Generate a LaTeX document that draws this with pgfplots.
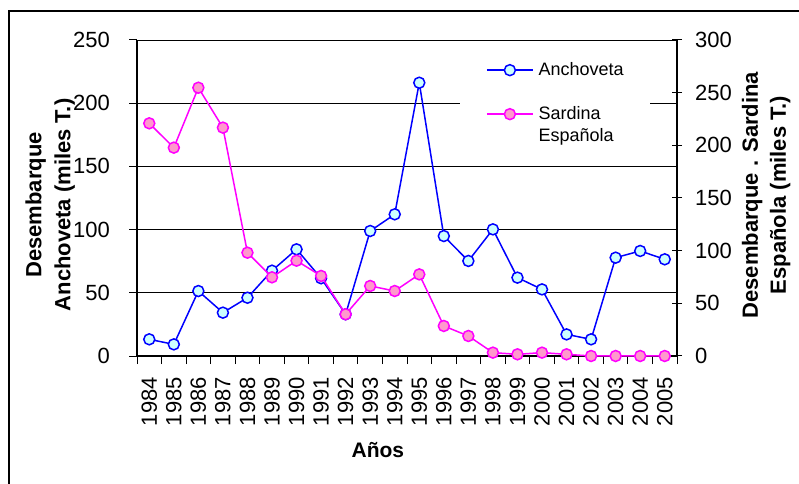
\documentclass[border=0pt]{standalone}
\usepackage{fontspec}
\setmainfont{Liberation Sans}
\usepackage{pgfplots}
\pgfplotsset{compat=1.18}
\definecolor{anchblue}{RGB}{0,0,255}
\definecolor{anchfill}{RGB}{204,255,255}
\definecolor{sardmag}{RGB}{255,0,255}
\definecolor{sardfill}{RGB}{255,153,204}
\pgfplotsset{
  anch/.style={color=anchblue, line width=1.5bp, mark=*, mark size=5.5bp,
    mark options={fill=anchfill, draw=anchblue, line width=1.5bp, solid}},
  sard/.style={color=sardmag, line width=1.5bp, mark=*, mark size=5.5bp,
    mark options={fill=sardfill, draw=sardmag, line width=1.5bp, solid}},
  common/.style={
    at={(137bp,128bp)}, anchor=south west, scale only axis,
    width=540bp, height=316bp, xmin=-0.5, xmax=21.5, clip=false,
    /pgf/number format/assume math mode=true,
    ticklabel style={font=\fontsize{22bp}{26bp}\selectfont},
    tick style={black, line width=1bp},
    axis line style={black, line width=1.2bp},
  },
}
\begin{document}
\begin{tikzpicture}
\begin{axis}[common,
  ymin=0, ymax=250, ytick={0,50,...,250},
  axis x line*=bottom, axis y line*=left,
  ymajorgrids, grid style={black, line width=0.8bp},
  xtick={-0.5,0.5,...,21.5}, xticklabels={},
  extra x ticks={0,1,...,21},
  extra x tick labels={1984,1985,1986,1987,1988,1989,1990,1991,1992,1993,1994,1995,1996,1997,1998,1999,2000,2001,2002,2003,2004,2005},
  extra x tick style={tick style={draw=none},
    xticklabel style={yshift=-13bp, rotate=90, anchor=east, inner sep=0pt,
      font=\fontsize{22bp}{26bp}\selectfont}},
  tick align=outside, major tick length=8bp,
  yticklabel style={anchor=east, inner sep=0pt, xshift=-19bp},
  ylabel={Desembarque\\Anchoveta (miles T.)},
  ylabel style={align=center, font=\bfseries\fontsize{22bp}{29bp}\selectfont,
    at={(axis description cs:-0.161,0.478)}, anchor=center},
  xlabel={Años},
  xlabel style={font=\bfseries\fontsize{21bp}{25bp}\selectfont,
    at={(axis description cs:0.446,-0.297)}, anchor=center},
]
\addplot[anch] coordinates {
(0,13.2) (1,9.2) (2,51.4) (3,34.3) (4,46.1) (5,67.5) (6,84.4) (7,61.5)
(8,33) (9,98.9) (10,112.1) (11,216.2) (12,94.9) (13,75.2) (14,100.2)
(15,62) (16,52.7) (17,17.1) (18,13.2) (19,77.8) (20,83.1) (21,76.5)};
\end{axis}
\begin{axis}[common,
  ymin=0, ymax=300, ytick={0,50,...,300},
  axis x line=none, axis y line*=right,
  tick align=center, major tick length=10bp,
  yticklabel style={anchor=west, inner sep=0pt, xshift=13bp},
  ylabel={Desembarque . Sardina\\Española (miles T.)},
  ylabel style={align=center, font=\bfseries\fontsize{22bp}{28bp}\selectfont,
    at={(axis description cs:1.165,0.509)}, anchor=center, rotate=0},
  legend image code/.code={\draw[mark repeat=2,mark phase=2,#1] plot coordinates {(0bp,0bp) (23bp,0bp) (46bp,0bp)};},
  legend style={at={(axis description cs:0.598,0.959)}, anchor=north west,
    draw=none, fill=white, inner xsep=26bp, inner ysep=8bp,
    font=\fontsize{18bp}{21bp}\selectfont, row sep=4bp, column sep=5bp,
    nodes={inner sep=0pt, text height=14bp, text depth=4bp}},
  legend cell align=left,
]
\addlegendimage{anch}
\addlegendentry{Anchoveta}
\addlegendimage{empty legend}
\addlegendentry{}
\addplot[sard] coordinates {
(0,220.9) (1,197.8) (2,254.7) (3,216.8) (4,98.1) (5,74.7) (6,90.5) (7,76)
(8,39.6) (9,66.5) (10,61.7) (11,77.5) (12,28.5) (13,19) (14,3.2)
(15,1.6) (16,3.2) (17,1.6) (18,0) (19,0) (20,0) (21,0)};
\addlegendentry{Sardina}
\addlegendimage{empty legend}
\addlegendentry{Española}
\end{axis}
\draw[black, line width=1.2bp] (9bp,-30bp) |- (830bp,473bp);
\pgfresetboundingbox
\useasboundingbox (0,0) rectangle (799bp,484bp);
\end{tikzpicture}
\end{document}
